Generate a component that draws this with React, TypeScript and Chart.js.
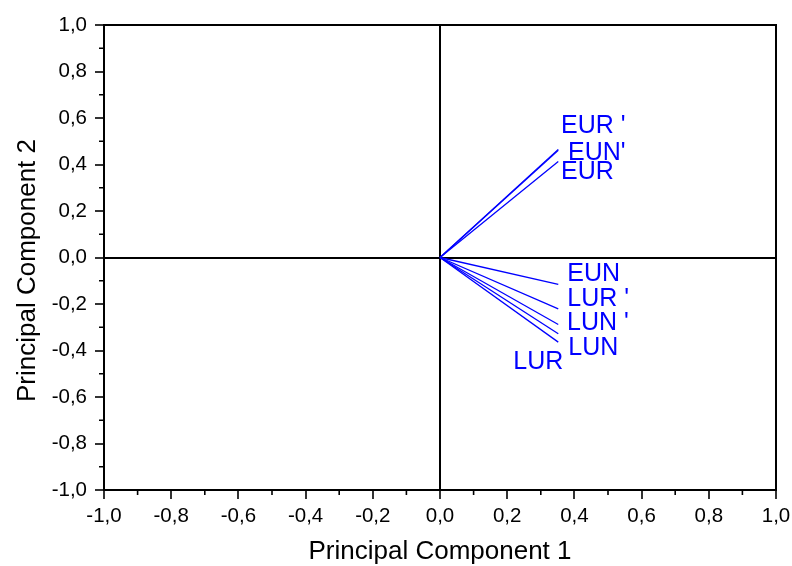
import React, { useEffect, useRef } from "react";
import { Chart, registerables } from "chart.js";

Chart.register(...registerables);

const FONT = "'Liberation Sans', Arial, Helvetica, sans-serif";

// Loading vectors (PC1, PC2) for each variable
const variableNames = ["EUR '", "EUN'", "EUR", "EUN", "LUR '", "LUN '", "LUN", "LUR"];
const pc1Loadings = [0.352, 0.352, 0.352, 0.352, 0.352, 0.352, 0.352, 0.352];
const pc2Loadings = [0.465, 0.461, 0.413, -0.116, -0.221, -0.288, -0.328, -0.364];

// Where each variable name is written, in component units
const nameAnchorPc1 = [0.36, 0.381, 0.36, 0.379, 0.379, 0.378, 0.382, 0.218];
const nameAnchorPc2 = [0.565, 0.45, 0.367, -0.07, -0.178, -0.282, -0.389, -0.448];

// Axis ticks shared by both components
const majorTicks = [-1.0, -0.8, -0.6, -0.4, -0.2, 0.0, 0.2, 0.4, 0.6, 0.8, 1.0];
const minorTicks = [-0.9, -0.7, -0.5, -0.3, -0.1, 0.1, 0.3, 0.5, 0.7, 0.9];

const xTitle = "Principal Component 1";
const yTitle = "Principal Component 2";

const VECTOR_COLOR = "#0000ff";

const formatTick = (v: number) => v.toFixed(1).replace(".", ",");

// Frame around the plot, short minor ticks, the vertical axis title and the variable names
const biplotDecor = {
  id: "biplotDecor",
  afterDatasetsDraw(chart: any) {
    const { ctx } = chart;
    const xs = chart.scales.x;
    const ys = chart.scales.y;
    ctx.save();
    ctx.fillStyle = VECTOR_COLOR;
    ctx.font = `25px ${FONT}`;
    ctx.textAlign = "left";
    ctx.textBaseline = "middle";
    variableNames.forEach((name, i) => {
      ctx.fillText(name, xs.getPixelForValue(nameAnchorPc1[i]), ys.getPixelForValue(nameAnchorPc2[i]));
    });
    ctx.restore();
  },
  afterDraw(chart: any) {
    const { ctx, chartArea } = chart;
    const xs = chart.scales.x;
    const ys = chart.scales.y;
    ctx.save();
    ctx.strokeStyle = "#000";
    ctx.lineWidth = 2;
    ctx.strokeRect(chartArea.left, chartArea.top, chartArea.right - chartArea.left, chartArea.bottom - chartArea.top);
    ctx.lineWidth = 1.6;
    ctx.beginPath();
    minorTicks.forEach((v) => {
      const px = xs.getPixelForValue(v);
      ctx.moveTo(px, chartArea.bottom);
      ctx.lineTo(px, chartArea.bottom + 5);
      const py = ys.getPixelForValue(v);
      ctx.moveTo(chartArea.left, py);
      ctx.lineTo(chartArea.left - 5, py);
    });
    ctx.stroke();

    // vertical axis title, rotated to read bottom-to-top
    ctx.fillStyle = "#000";
    ctx.font = `26px ${FONT}`;
    ctx.textAlign = "center";
    ctx.textBaseline = "middle";
    ctx.translate(28, (chartArea.top + chartArea.bottom) / 2 + 13);
    ctx.rotate(-Math.PI / 2);
    ctx.fillText(yTitle, 0, 0);
    ctx.restore();
  },
};

const zeroLineColor = (c: any) =>
  c.tick && Math.abs(c.tick.value) < 1e-9 ? "#000" : "rgba(0,0,0,0)";

function axisOptions(isX: boolean) {
  return {
    type: "linear",
    position: isX ? "bottom" : "left",
    min: -1,
    max: 1,
    afterBuildTicks: (scale: any) => {
      scale.ticks = majorTicks.map((value) => ({ value }));
    },
    afterFit: (scale: any) => {
      // fixed axis band sizes; edge labels may overhang into the page margin
      if (isX) scale.height = 76;
      else scale.width = 104;
      scale.paddingLeft = 0;
      scale.paddingRight = 0;
      scale.paddingTop = 0;
      scale.paddingBottom = 0;
    },
    grid: {
      drawOnChartArea: true,
      color: zeroLineColor,
      lineWidth: 2,
      tickColor: "#000",
      tickLength: 9,
      tickWidth: 1.6,
    },
    border: { display: true, color: "#000", width: 2 },
    ticks: {
      color: "#000",
      font: { family: FONT, size: 20.5, lineHeight: 1 },
      padding: isX ? 7 : 8,
      maxRotation: 0,
      autoSkip: false,
      callback: (v: any) => formatTick(Number(v)),
    },
    title: {
      display: isX,
      text: xTitle,
      color: "#000",
      font: { family: FONT, size: 26, lineHeight: 1 },
      padding: { top: 0, bottom: 1 },
    },
  };
}

export default function App() {
  const canvasRef = useRef<HTMLCanvasElement>(null);

  useEffect(() => {
    const canvas = canvasRef.current;
    if (!canvas) return;
    const datasets = variableNames.map((name, i) => ({
      label: name,
      data: [
        { x: 0, y: 0 },
        { x: pc1Loadings[i], y: pc2Loadings[i] },
      ],
      showLine: true,
      borderColor: VECTOR_COLOR,
      borderWidth: 1.3,
      pointRadius: 0,
      pointHoverRadius: 0,
      fill: false,
    }));

    const chart = new Chart(canvas, {
      type: "scatter",
      data: { datasets },
      options: {
        responsive: false,
        animation: false,
        layout: { padding: { left: 0, top: 25, right: 16, bottom: 0 } },
        plugins: {
          legend: { display: false },
          tooltip: { enabled: false },
        },
        scales: {
          x: axisOptions(true) as any,
          y: axisOptions(false) as any,
        },
      },
      plugins: [biplotDecor],
    });
    return () => chart.destroy();
  }, []);

  return (
    <div style={{ position: "absolute", left: 0, top: 0, width: 792, height: 566, background: "#fff" }}>
      <canvas ref={canvasRef} width={792} height={566} style={{ display: "block", width: 792, height: 566 }} />
    </div>
  );
}
